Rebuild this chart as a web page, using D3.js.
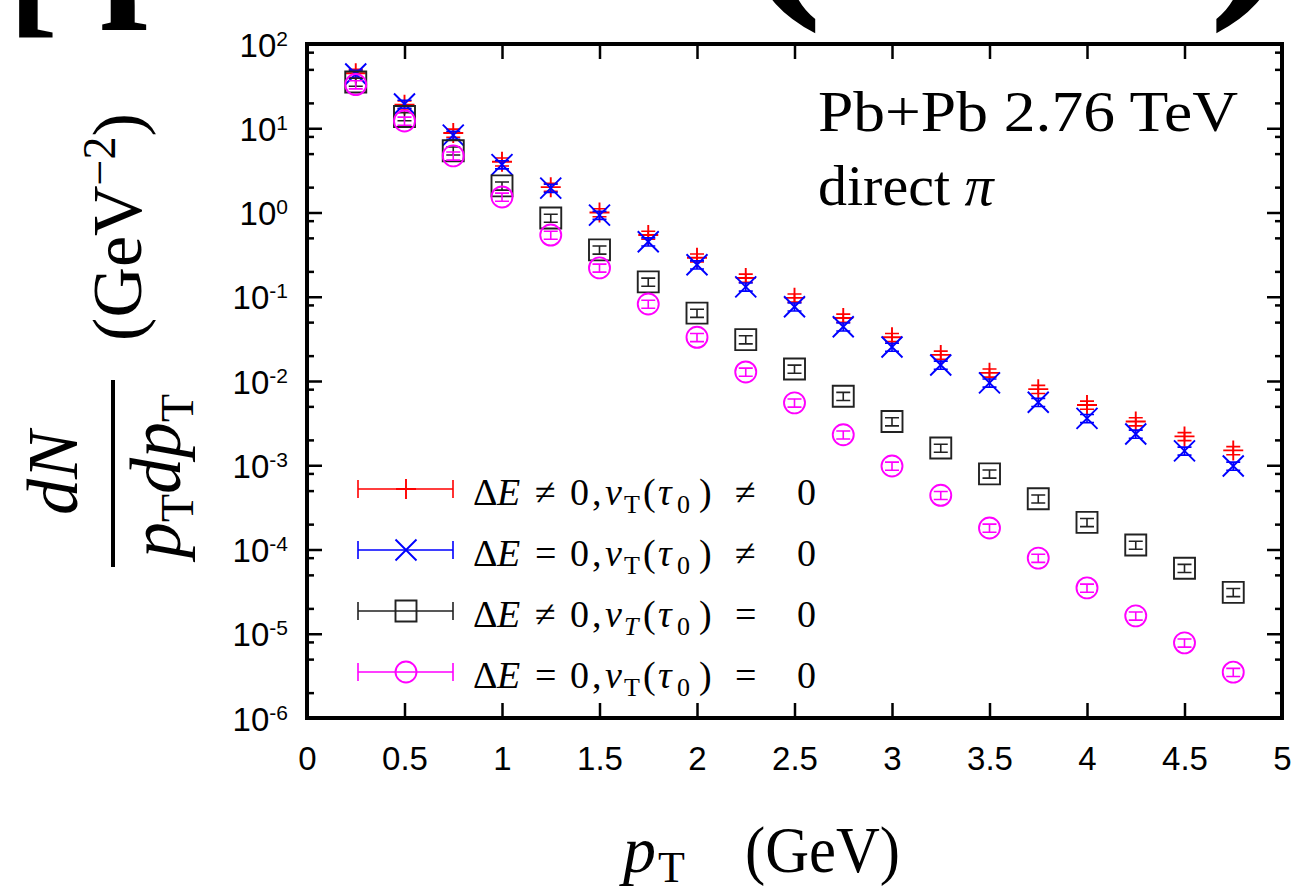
<!DOCTYPE html>
<html>
<head>
<meta charset="utf-8">
<script src="https://cdn.jsdelivr.net/npm/d3@7"></script>
<style>
  body { margin: 0; background: #fff; }
  svg { display: block; }
</style>
</head>
<body>
<svg id="chart"></svg>
<script>
// pT bin centres (GeV)
var pT = [0.25, 0.5, 0.75, 1, 1.25, 1.5, 1.75, 2, 2.25, 2.5, 2.75, 3, 3.25, 3.5, 3.75, 4, 4.25, 4.5, 4.75];

// dN/(pT dpT), one array per curve
var yieldBoth    = [45, 19, 8.8, 4.0, 2.0, 1.0, 0.54, 0.29, 0.167, 0.097, 0.056, 0.033, 0.0204, 0.0125, 0.0080, 0.0052, 0.0033, 0.0022, 0.0015];
var yieldFlow    = [44, 19.4, 8.3, 3.7, 1.95, 0.93, 0.45, 0.24, 0.131, 0.076, 0.044, 0.0253, 0.0155, 0.0095, 0.0056, 0.0036, 0.00235, 0.00148, 0.00098];
var yieldEloss   = [35.4, 13.8, 5.4, 2.07, 0.86, 0.36, 0.150, 0.064, 0.031, 0.0139, 0.0066, 0.0033, 0.0016, 0.00079, 0.00040, 0.00021, 0.000113, 0.000060, 0.000031];
var yieldNeither = [33, 12.2, 4.7, 1.53, 0.54, 0.22, 0.082, 0.033, 0.0128, 0.0055, 0.0023, 0.00098, 0.00044, 0.00018, 0.000079, 0.000035, 0.0000163, 0.0000078, 0.0000035];
var errRel = 0.11;

var xTicks = [0, 0.5, 1, 1.5, 2, 2.5, 3, 3.5, 4, 4.5, 5];
var xTickLabels = ["0", "0.5", "1", "1.5", "2", "2.5", "3", "3.5", "4", "4.5", "5"];
var yExps = [2, 1, 0, -1, -2, -3, -4, -5, -6];
var yMinorMult = [2, 5, 8];

var seriesColors = ["#ff0000", "#0000ff", "#222222", "#ff00ff"];
var seriesSymbols = ["plus", "cross", "square", "circle"];
var seriesValues = [yieldBoth, yieldFlow, yieldEloss, yieldNeither];
// legend labels: [text, italic?, subscript?]
var seriesLabels = [
  [["Δ",0,0],["E",1,0],["≠",0,0],["0",0,0],[",",0,0],["v",1,0],["T",0,1],["(",0,0],["τ",1,0],["0",0,1],[")",0,0],["≠",0,0],["0",0,0]],
  [["Δ",0,0],["E",1,0],["=",0,0],["0",0,0],[",",0,0],["v",1,0],["T",0,1],["(",0,0],["τ",1,0],["0",0,1],[")",0,0],["≠",0,0],["0",0,0]],
  [["Δ",0,0],["E",1,0],["≠",0,0],["0",0,0],[",",0,0],["v",1,0],["T",1,1],["(",0,0],["τ",1,0],["0",0,1],[")",0,0],["=",0,0],["0",0,0]],
  [["Δ",0,0],["E",1,0],["=",0,0],["0",0,0],[",",0,0],["v",1,0],["T",0,1],["(",0,0],["τ",1,0],["0",0,1],[")",0,0],["=",0,0],["0",0,0]]
];

(function () {
var W = 1301, H = 891;
var pLeft = 307, pRight = 1282, pTop = 44, pBottom = 718;
var serif = "'Liberation Serif', 'Times New Roman', serif";
var sans = "'Liberation Sans', Arial, sans-serif";

var svg = d3.select("#chart").attr("width", W).attr("height", H);

var x = d3.scaleLinear().domain([0, 5]).range([pLeft, pRight]);
var y = d3.scaleLog().domain([1e-6, 1e2]).range([pBottom, pTop]);

var majorY = yExps.map(function (e) { return Math.pow(10, e); });
var minorY = [];
yExps.filter(function (e) { return e < 2; }).forEach(function (e) {
  yMinorMult.forEach(function (k) { minorY.push(k * Math.pow(10, e)); });
});

// slide title cut off by the top edge (only the bottoms of its glyphs show)
var title = svg.append("g")
    .attr("font-family", serif).attr("font-weight", "bold");
title.append("text").attr("x", 8).attr("y", 18).attr("font-size", 150).text("[");
title.append("text").attr("x", 100).attr("y", -6).attr("font-size", 170).text("p");
title.append("text").attr("x", 737).attr("y", -22).attr("font-size", 260).text("(");
title.append("text").attr("x", 1208).attr("y", -22).attr("font-size", 260).text(")");

function styleAxis(g) {
  g.select(".domain").remove();
  g.selectAll(".tick line").attr("stroke", "#000").attr("stroke-width", 2.5);
}

// x axes
svg.append("g")
    .attr("transform", "translate(0," + pBottom + ")")
    .call(d3.axisBottom(x).tickValues(xTicks).tickSize(-15).tickPadding(29)
      .tickFormat(function (d, i) { return xTickLabels[i]; }))
    .call(styleAxis)
    .attr("font-family", sans).attr("font-size", 33)
    .selectAll("text").attr("fill", "#000");

svg.append("g")
    .attr("transform", "translate(0," + pTop + ")")
    .call(d3.axisTop(x).tickValues(xTicks).tickSize(-15).tickFormat(""))
    .call(styleAxis);

// y axes, majors and minors on both sides
var leftMajor = svg.append("g")
    .attr("transform", "translate(" + pLeft + ",0)")
    .call(d3.axisLeft(y).tickValues(majorY).tickSize(-15).tickFormat(""))
    .call(styleAxis);
svg.append("g")
    .attr("transform", "translate(" + pLeft + ",0)")
    .call(d3.axisLeft(y).tickValues(minorY).tickSize(-7).tickFormat(""))
    .call(styleAxis);
svg.append("g")
    .attr("transform", "translate(" + pRight + ",0)")
    .call(d3.axisRight(y).tickValues(majorY).tickSize(-15).tickFormat(""))
    .call(styleAxis);
svg.append("g")
    .attr("transform", "translate(" + pRight + ",0)")
    .call(d3.axisRight(y).tickValues(minorY).tickSize(-7).tickFormat(""))
    .call(styleAxis);

leftMajor.selectAll(".tick text").remove();
leftMajor.selectAll(".tick").each(function (d, i) {
  var t = d3.select(this).append("text")
      .attr("x", -19).attr("y", 12)
      .attr("text-anchor", "end")
      .attr("fill", "#000")
      .attr("font-family", sans);
  t.append("tspan").attr("font-size", 33).text("10");
  t.append("tspan").attr("font-size", 21).attr("dy", -11).text(String(yExps[i]));
});

// frame
svg.append("rect")
    .attr("x", pLeft).attr("y", pTop)
    .attr("width", pRight - pLeft).attr("height", pBottom - pTop)
    .attr("fill", "none").attr("stroke", "#000").attr("stroke-width", 4);

// marker shapes
var symbolPath = {
  plus: "M-10,0H10M0,-10V10",
  cross: "M-10.5,-10.5L10.5,10.5M-10.5,10.5L10.5,-10.5",
  square: "M-10.5,-10.5H10.5V10.5H-10.5Z",
  circle: "M10.5,0A10.5,10.5 0 1,1 -10.5,0A10.5,10.5 0 1,1 10.5,0Z"
};
var capW = 7;

seriesValues.forEach(function (vals, si) {
  var pts = pT.map(function (p, i) { return { p: p, v: vals[i] }; });
  var g = svg.append("g")
      .attr("stroke", seriesColors[si])
      .attr("fill", "none");

  g.selectAll("path.err").data(pts).join("path")
      .attr("class", "err")
      .attr("stroke-width", 1.6)
      .attr("d", function (d) {
        var x0 = x(d.p), y1 = y(d.v * (1 + errRel)), y2 = y(d.v * (1 - errRel));
        return "M" + x0 + "," + y1 + "V" + y2 +
               "M" + (x0 - capW) + "," + y1 + "H" + (x0 + capW) +
               "M" + (x0 - capW) + "," + y2 + "H" + (x0 + capW);
      });

  g.selectAll("path.mk").data(pts).join("path")
      .attr("class", "mk")
      .attr("stroke-width", 1.9)
      .attr("transform", function (d) { return "translate(" + x(d.p) + "," + y(d.v) + ")"; })
      .attr("d", symbolPath[seriesSymbols[si]]);
});

// legend
var legX0 = 358, legX1 = 453, legMark = 406, legTextX = 473;
var partOffsets = [0, 24, 62, 97, 119, 132, 151, 170, 185, 204, 226, 262, 324];
seriesLabels.forEach(function (parts, si) {
  var ly = 489 + 61 * si;
  var g = svg.append("g").attr("stroke", seriesColors[si]).attr("fill", "none").attr("stroke-width", 1.6);
  g.append("path").attr("d",
      "M" + legX0 + "," + ly + "H" + legX1 +
      "M" + legX0 + "," + (ly - 9) + "V" + (ly + 9) +
      "M" + legX1 + "," + (ly - 9) + "V" + (ly + 9));
  g.append("path")
      .attr("stroke-width", 1.9)
      .attr("transform", "translate(" + legMark + "," + ly + ")")
      .attr("d", symbolPath[seriesSymbols[si]]);

  var t = svg.append("text")
      .attr("y", ly + 16)
      .attr("font-family", serif)
      .attr("fill", "#000");
  parts.forEach(function (p, k) {
    t.append("tspan")
        .attr("x", legTextX + partOffsets[k])
        .attr("y", ly + 16 + (p[2] ? 8 : 0))
        .attr("font-size", p[2] ? 26 : 38)
        .attr("font-style", p[1] ? "italic" : "normal")
        .text(p[0]);
  });
});

// annotation
svg.append("text")
    .attr("x", 818).attr("y", 131)
    .attr("font-family", serif).attr("font-size", 58)
    .attr("textLength", 420).attr("lengthAdjust", "spacingAndGlyphs")
    .text("Pb+Pb 2.76 TeV");
var ann2 = svg.append("text")
    .attr("x", 818).attr("y", 205)
    .attr("font-family", serif).attr("font-size", 58);
ann2.append("tspan").text("direct ");
ann2.append("tspan").attr("font-style", "italic").text("π");

// x axis title
var xt = svg.append("text")
    .attr("y", 872)
    .attr("font-family", serif).attr("font-size", 66);
xt.append("tspan").attr("x", 623).attr("font-style", "italic").text("p");
xt.append("tspan").attr("x", 658).attr("dy", 10).attr("font-size", 44).text("T");
svg.append("text")
    .attr("x", 745).attr("y", 872)
    .attr("font-family", serif).attr("font-size", 66)
    .attr("textLength", 155).attr("lengthAdjust", "spacingAndGlyphs")
    .text("(GeV)");

// y axis title: dN / (pT dpT) (GeV^-2)
svg.append("text")
    .attr("transform", "translate(77,473) rotate(-90)")
    .attr("text-anchor", "middle")
    .attr("font-family", serif).attr("font-size", 72).attr("font-style", "italic")
    .text("dN");
svg.append("line")
    .attr("x1", 113).attr("x2", 113).attr("y1", 380).attr("y2", 567)
    .attr("stroke", "#000").attr("stroke-width", 4);
var den = svg.append("text")
    .attr("transform", "translate(180,476) rotate(-90)")
    .attr("text-anchor", "middle")
    .attr("font-family", serif).attr("font-size", 72);
den.append("tspan").attr("font-style", "italic").text("p");
den.append("tspan").attr("font-size", 46).attr("dy", 13).text("T");
den.append("tspan").attr("font-style", "italic").attr("dy", -13).text("dp");
den.append("tspan").attr("font-size", 46).attr("dy", 13).text("T");
var unit = svg.append("text")
    .attr("transform", "translate(141,227) rotate(-90)")
    .attr("text-anchor", "middle")
    .attr("font-family", serif).attr("font-size", 70);
unit.append("tspan").text("(GeV");
unit.append("tspan").attr("font-size", 46).attr("dy", -26).text("−2");
unit.append("tspan").attr("dy", 26).text(")");
})();
</script>
</body>
</html>
